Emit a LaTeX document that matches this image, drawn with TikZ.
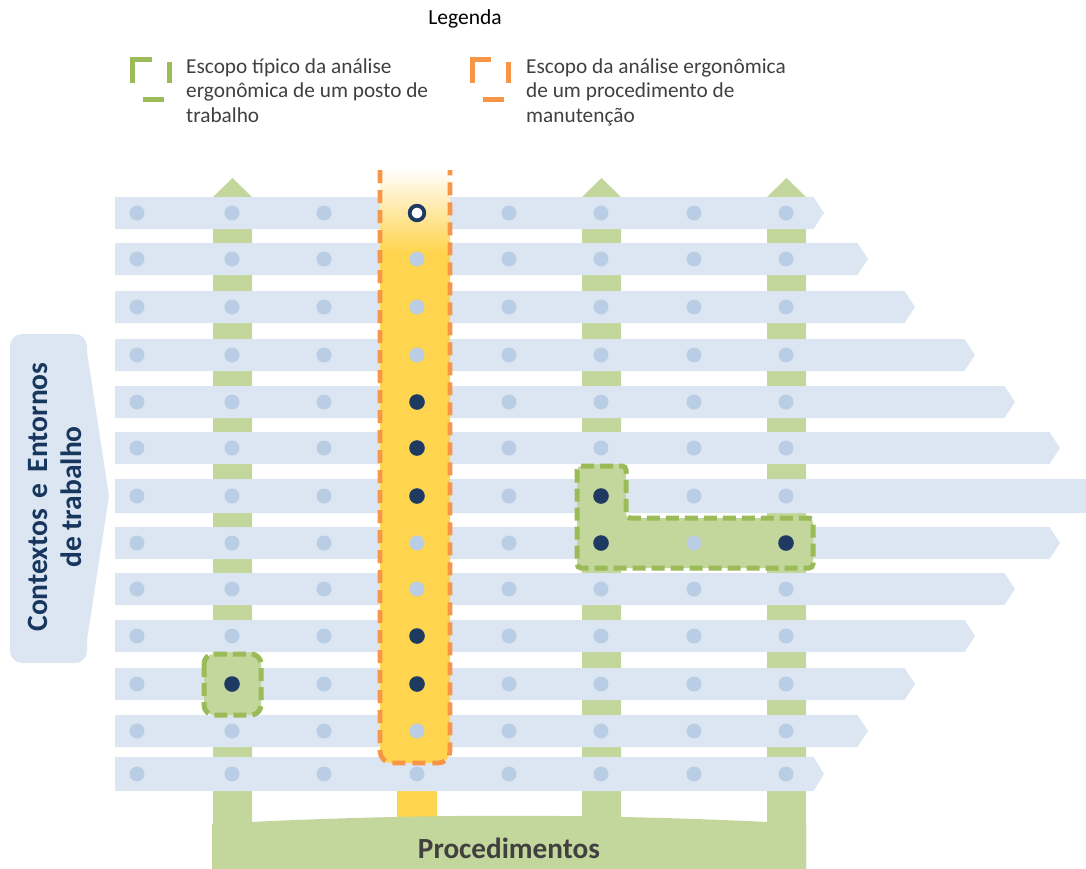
\documentclass[tikz,border=0pt]{standalone}
\usepackage{fontspec}
\setmainfont{Carlito}
\definecolor{rowblue}{HTML}{DCE6F2}
\definecolor{dotblue}{HTML}{B9CDE5}
\definecolor{navy}{HTML}{1E3A60}
\definecolor{colgreen}{HTML}{C3D69B}
\definecolor{dashgreen}{HTML}{9BBB59}
\definecolor{orng}{HTML}{F79646}
\definecolor{yel}{HTML}{FFD44F}
\definecolor{txtnavy}{HTML}{17375E}
\definecolor{txtgray}{HTML}{404040}
\begin{document}
\begin{tikzpicture}[x=1pt,y=-1pt,
  lightdot/.style={fill=dotblue},
  darkdot/.style={fill=navy},
  legtext/.style={anchor=base west,inner sep=0pt,text=txtgray,font=\fontsize{21.3}{24}\selectfont},
  scopegreen/.style={fill=colgreen,draw=dashgreen,line width=5pt,dash pattern=on 13pt off 6pt},
  scopeorange/.style={draw=orng,line width=4.8pt,dash pattern=on 13pt off 7pt},
  legbar/.style={line width=5pt}]
\useasboundingbox (0,0) rectangle (1086,868);
\clip (0,0) rectangle (1086,868);

% legend
\node[font=\fontsize{21.5}{24}\selectfont, text=black] (leg) at (465,19) {Legenda};
\draw[legbar,dashgreen] (132.5,59) -- (152,59) (132.5,56.5) -- (132.5,83) (169,62) -- (169,83) (143,99) -- (164,99);
\draw[legbar,orng] (472.5,59) -- (491,59) (472.5,56.5) -- (472.5,83) (508,62) -- (508,83) (483,99) -- (504,99);
\node[legtext] (g1) at (186,73) {Escopo típico da análise};
\node[legtext] (g2) at (186,97.5) {ergonômica de um posto de};
\node[legtext] (g3) at (186,122) {trabalho};
\node[legtext] (o1) at (526,73) {Escopo da análise ergonômica};
\node[legtext] (o2) at (526,97.5) {de um procedimento de};
\node[legtext] (o3) at (526,122) {manutenção};

% green procedure columns
\foreach \cx in {232.5,601.5,786.5}
  \fill[colgreen] ({\cx-19.5},870) -- ({\cx-19.5},197) -- (\cx,178) -- ({\cx+19.5},197) -- ({\cx+19.5},870) -- cycle;
\fill[yel] (397,740) rectangle (437,830);
% bottom banner
\fill[colgreen] (212,870) -- (212,824) .. controls (410,813) and (608,813) .. (806,824) -- (806,870) -- cycle;
\node[font=\bfseries\fontsize{29.2}{32}\selectfont, text=txtgray, anchor=base] (proc) at (509,858) {Procedimentos};

% rows (contexts)
\foreach \y/\t/\h in {213/824/16,259/868/16,307/915/16,355/975/16,402/1015/16,448/1060/16,496/1110/17,543/1060/16,589/1015/16,636/975/16,684/915/16,731/868/16,774/824/17}
  \fill[rowblue] (115,{\y-\h}) -- ({\t-10.5},{\y-\h}) -- (\t,\y) -- ({\t-10.5},{\y+\h}) -- (115,{\y+\h}) -- cycle;

% left box
\fill[rowblue] (109,496) -- (87,352) [rounded corners=12pt] -- (87,334) -- (10,334) -- (10,663) -- (87,663) [sharp corners] -- (87,640) -- cycle;
\node[rotate=90, font=\bfseries\fontsize{29.5}{34}\selectfont, text=txtnavy, align=center] (ctx) at (55,497) {Contextos\hspace{0.15em} e\hspace{0.15em} Entornos\\de trabalho};

% yellow procedure scope
\fill[yel] (380,245) [rounded corners=12pt] -- (380,763) -- (450,763) [sharp corners] -- (450,245) -- cycle;
\shade[top color=yel!3, bottom color=yel] (380,170) rectangle (450,252);
\draw[scopeorange] (380,170) [rounded corners=12pt] -- (380,763) -- (450,763) [sharp corners] -- (450,170);

% green workstation scopes
\draw[scopegreen, rounded corners=4pt] (577,466) -- (626,466) -- (626,518) -- (813,518) -- (813,568) -- (577,568) -- cycle;
\draw[scopegreen, rounded corners=10pt] (204,654) rectangle (261,715);

% dots
\foreach \y in {213,259,307,355,402,448,496,543,589,636,684,731,774}
  \foreach \x in {137,232,324,417,509,601,694,786}
    \fill[lightdot] (\x,\y) circle (7.5);
\foreach \x/\y in {417/402,417/448,417/496,417/636,417/684,601/496,601/543,786/543,232/684}
  \fill[darkdot] (\x,\y) circle (7.8);
\draw[navy, line width=3.8pt, fill=white] (417,213) circle (7.3);
\end{tikzpicture}
\end{document}
